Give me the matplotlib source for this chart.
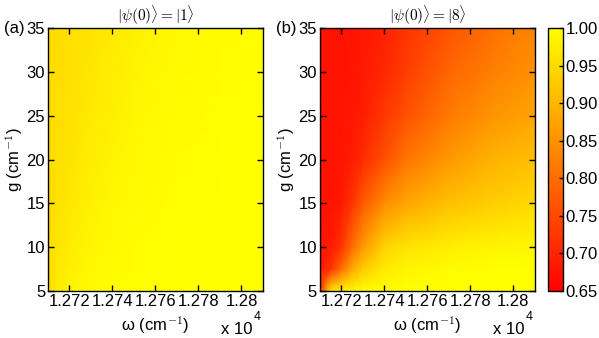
import numpy as np
import matplotlib.pyplot as plt

plt.rcParams['font.family'] = ['Liberation Sans', 'DejaVu Sans']
plt.rcParams['mathtext.fontset'] = 'cm'

# grid
omega = [12710, 12715, 12720, 12725, 12730, 12740, 12750, 12770, 12790, 12810]
g = [5, 7.5, 10, 15, 20, 25, 30, 35]

# panel (a): |psi(0)> = |1>
pop_a = [
    [0.950, 0.975, 0.985, 0.990, 0.993, 0.996, 0.998, 1.000, 1.000, 1.000],
    [0.950, 0.970, 0.980, 0.986, 0.990, 0.994, 0.997, 1.000, 1.000, 1.000],
    [0.950, 0.965, 0.975, 0.982, 0.987, 0.992, 0.996, 0.999, 1.000, 1.000],
    [0.950, 0.960, 0.968, 0.975, 0.981, 0.988, 0.993, 0.998, 1.000, 1.000],
    [0.950, 0.957, 0.963, 0.969, 0.975, 0.984, 0.990, 0.996, 0.999, 1.000],
    [0.950, 0.955, 0.960, 0.965, 0.970, 0.979, 0.987, 0.994, 0.998, 0.999],
    [0.950, 0.954, 0.958, 0.962, 0.966, 0.975, 0.984, 0.992, 0.996, 0.998],
    [0.950, 0.953, 0.956, 0.959, 0.963, 0.971, 0.980, 0.990, 0.995, 0.997],
]

# panel (b): |psi(0)> = |8>
pop_b = [
    [0.720, 0.960, 0.985, 0.993, 0.997, 1.000, 1.000, 1.000, 1.000, 1.000],
    [0.680, 0.720, 0.800, 0.880, 0.930, 0.970, 0.985, 0.995, 1.000, 1.000],
    [0.678, 0.685, 0.720, 0.800, 0.860, 0.940, 0.962, 0.978, 0.985, 0.988],
    [0.675, 0.678, 0.685, 0.720, 0.773, 0.843, 0.878, 0.913, 0.932, 0.948],
    [0.675, 0.676, 0.680, 0.690, 0.710, 0.760, 0.810, 0.860, 0.895, 0.913],
    [0.675, 0.676, 0.678, 0.682, 0.690, 0.727, 0.762, 0.818, 0.853, 0.878],
    [0.675, 0.675, 0.677, 0.680, 0.685, 0.706, 0.734, 0.790, 0.825, 0.850],
    [0.675, 0.675, 0.676, 0.678, 0.682, 0.696, 0.720, 0.766, 0.804, 0.832],
]

xticks = [12720, 12740, 12760, 12780, 12800]
xticklabels = ['1.272', '1.274', '1.276', '1.278', '1.28']
yticks = [5, 10, 15, 20, 25, 30, 35]
cticks = [0.65, 0.70, 0.75, 0.80, 0.85, 0.90, 0.95, 1.00]

fig = plt.figure(figsize=(5.99, 3.38), dpi=100)
ax_a = fig.add_axes([0.080, 0.139, 0.359, 0.778])
ax_b = fig.add_axes([0.534, 0.139, 0.359, 0.778])
cax = fig.add_axes([0.915, 0.139, 0.025, 0.778])

W, G = np.meshgrid(omega, g)
titles = [r'$|\psi(0)\rangle = |1\rangle$', r'$|\psi(0)\rangle = |8\rangle$']
tags = ['(a)', '(b)']

for ax, data, title, tag in zip([ax_a, ax_b], [pop_a, pop_b], titles, tags):
    mesh = ax.pcolormesh(W, G, np.array(data), shading='gouraud',
                         cmap='autumn', vmin=0.65, vmax=1.0)
    ax.set_xlim(12710, 12810)
    ax.set_ylim(5, 35)
    ax.set_xticks(xticks)
    ax.set_xticklabels(xticklabels)
    ax.set_yticks(yticks)
    ax.tick_params(direction='in', top=True, right=True, labelsize=12,
                   length=4, width=1, pad=2)
    for s in ax.spines.values():
        s.set_linewidth(1.0)
    ax.set_title(title, fontsize=11, pad=5)
    ax.set_xlabel('\u03c9 (cm$^{-1}$)', fontsize=12, labelpad=4)
    ax.set_ylabel('g (cm$^{-1}$)', fontsize=12)
    ax.yaxis.set_label_coords(-0.105, 0.5)
    ax.text(-0.205, 1.0, tag, transform=ax.transAxes, fontsize=12,
            ha='left', va='center')
    # MATLAB style multiplier below the axis
    ax.text(0.953, -0.118, 'x 10', transform=ax.transAxes, fontsize=12,
            ha='right', va='top')
    ax.text(0.958, -0.076, '4', transform=ax.transAxes, fontsize=9,
            ha='left', va='top')

cb = fig.colorbar(mesh, cax=cax, ticks=cticks)
cb.ax.set_yticklabels(['%.2f' % t for t in cticks])
cb.ax.tick_params(direction='in', labelsize=12, length=3, width=1, pad=2)
cb.outline.set_linewidth(1.0)

fig.savefig('out.png', dpi=100)
